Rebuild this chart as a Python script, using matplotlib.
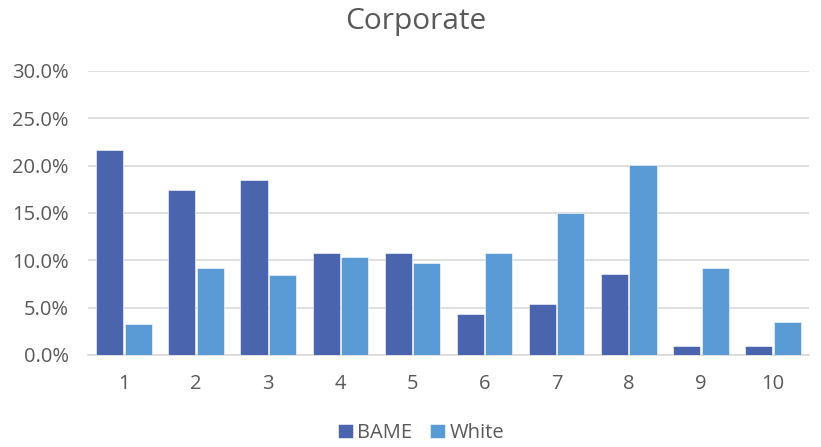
import matplotlib
matplotlib.use("Agg")
import matplotlib.pyplot as plt
import numpy as np
from matplotlib.ticker import FuncFormatter

plt.rcParams['font.family'] = ['Open Sans', 'DejaVu Sans']

categories = ['1', '2', '3', '4', '5', '6', '7', '8', '9', '10']
bame = [21.7, 17.4, 18.5, 10.8, 10.8, 4.3, 5.4, 8.6, 1.0, 1.0]
white = [3.3, 9.2, 8.5, 10.4, 9.7, 10.8, 15.0, 20.1, 9.2, 3.5]

c_bame = '#4A65AE'
c_white = '#5B9BD5'
grey_txt = '#595959'
grid_c = '#D9D9D9'

fig = plt.figure(figsize=(8.21, 4.47), dpi=100)
ax = fig.add_axes([88/821, 1-355/447, (809-88)/821, (355-71)/447])

x = np.arange(len(categories))
w = 0.375
ax.bar(x - w/2 - 0.01, np.array(bame)/100, width=w, color=c_bame, label='BAME', zorder=3,
       edgecolor='white', linewidth=0.4)
ax.bar(x + w/2 + 0.01, np.array(white)/100, width=w, color=c_white, label='White', zorder=3,
       edgecolor='white', linewidth=0.4)

ax.set_xlim(-0.5, len(categories) - 0.5)
ax.set_ylim(0, 0.30)
ax.set_yticks(np.arange(0, 0.301, 0.05))
ax.yaxis.set_major_formatter(FuncFormatter(lambda v, p: f'{v*100:.1f}%'))
ax.set_xticks(x)
ax.set_xticklabels(categories)

ax.grid(axis='y', color=grid_c, linewidth=1.2, zorder=0)
for s in ['top', 'right', 'left']:
    ax.spines[s].set_visible(False)
ax.spines['bottom'].set_color(grid_c)
ax.spines['bottom'].set_linewidth(1.2)
ax.tick_params(axis='both', length=0, labelsize=14.5, colors=grey_txt)
ax.tick_params(axis='y', pad=14)
ax.tick_params(axis='x', pad=14)

fig.text(416/821, 1-22/447, 'Corporate', ha='center', va='center', fontsize=21.5, color=grey_txt)

leg = fig.legend(loc='center', bbox_to_anchor=(421/821, 1-433/447), ncol=2, frameon=False,
                 fontsize=14.5, handlelength=0.75, handleheight=0.75, handletextpad=0.2,
                 columnspacing=0.9)
for t in leg.get_texts():
    t.set_color(grey_txt)

fig.savefig('out.png', dpi=100)
